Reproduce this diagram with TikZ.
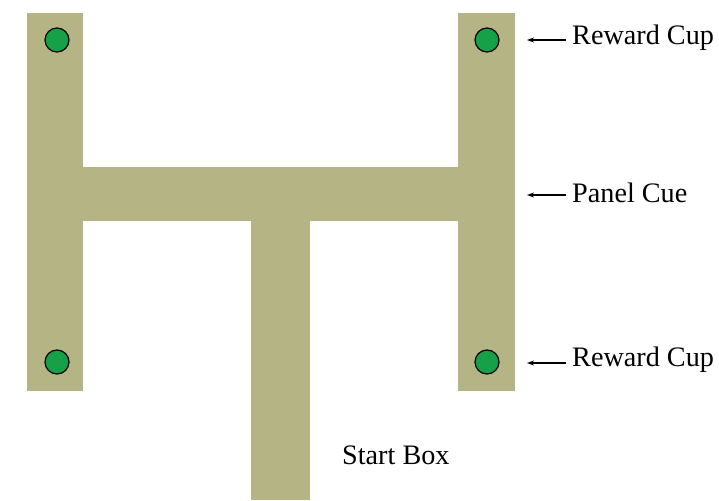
\documentclass[tikz,border=0pt]{standalone}
\usepackage{fontspec}
\setmainfont{Liberation Serif}
\usetikzlibrary{arrows.meta}
\definecolor{maze}{RGB}{180,180,132}
\definecolor{cup}{RGB}{22,160,72}
\tikzset{
  arm/.style={fill=maze, draw=none},
  cupdot/.style={circle, fill=cup, draw=black, line width=1.2pt, minimum size=24pt, inner sep=0pt},
  pointer/.style={-{Stealth[length=7pt,width=5pt]}, line width=1.4pt},
  lbl/.style={anchor=west, inner sep=0pt, font=\fontsize{28.2}{33}\selectfont}
}
\begin{document}
\begin{tikzpicture}[x=1pt,y=-1pt]
\useasboundingbox (0,0) rectangle (719,500);
% maze arms
\fill[arm] (27,13) rectangle (83,391);
\fill[arm] (458,13) rectangle (515,391);
\fill[arm] (82,167) rectangle (459,221);
\fill[arm] (251,220) rectangle (310,500);
% reward cups
\node[cupdot] (c1) at (57,40) {};
\node[cupdot] (c2) at (487,40) {};
\node[cupdot] (c3) at (57,362) {};
\node[cupdot] (c4) at (487,362) {};
% labels
\node[lbl] (l1) at (572,38) {Reward Cup};
\node[lbl] (l2) at (572,193) {Panel Cue};
\node[lbl] (l3) at (572,360) {Reward Cup};
\node[lbl] (l4) at (342,455) {Start Box};
% pointers
\coordinate (t1) at (527,40);
\coordinate (t2) at (527,195);
\coordinate (t3) at (527,363);
\draw[pointer] (l1.west |- t1) ++(-6,0) -- (t1);
\draw[pointer] (l2.west |- t2) ++(-6,0) -- (t2);
\draw[pointer] (l3.west |- t3) ++(-6,0) -- (t3);
\end{tikzpicture}
\end{document}
